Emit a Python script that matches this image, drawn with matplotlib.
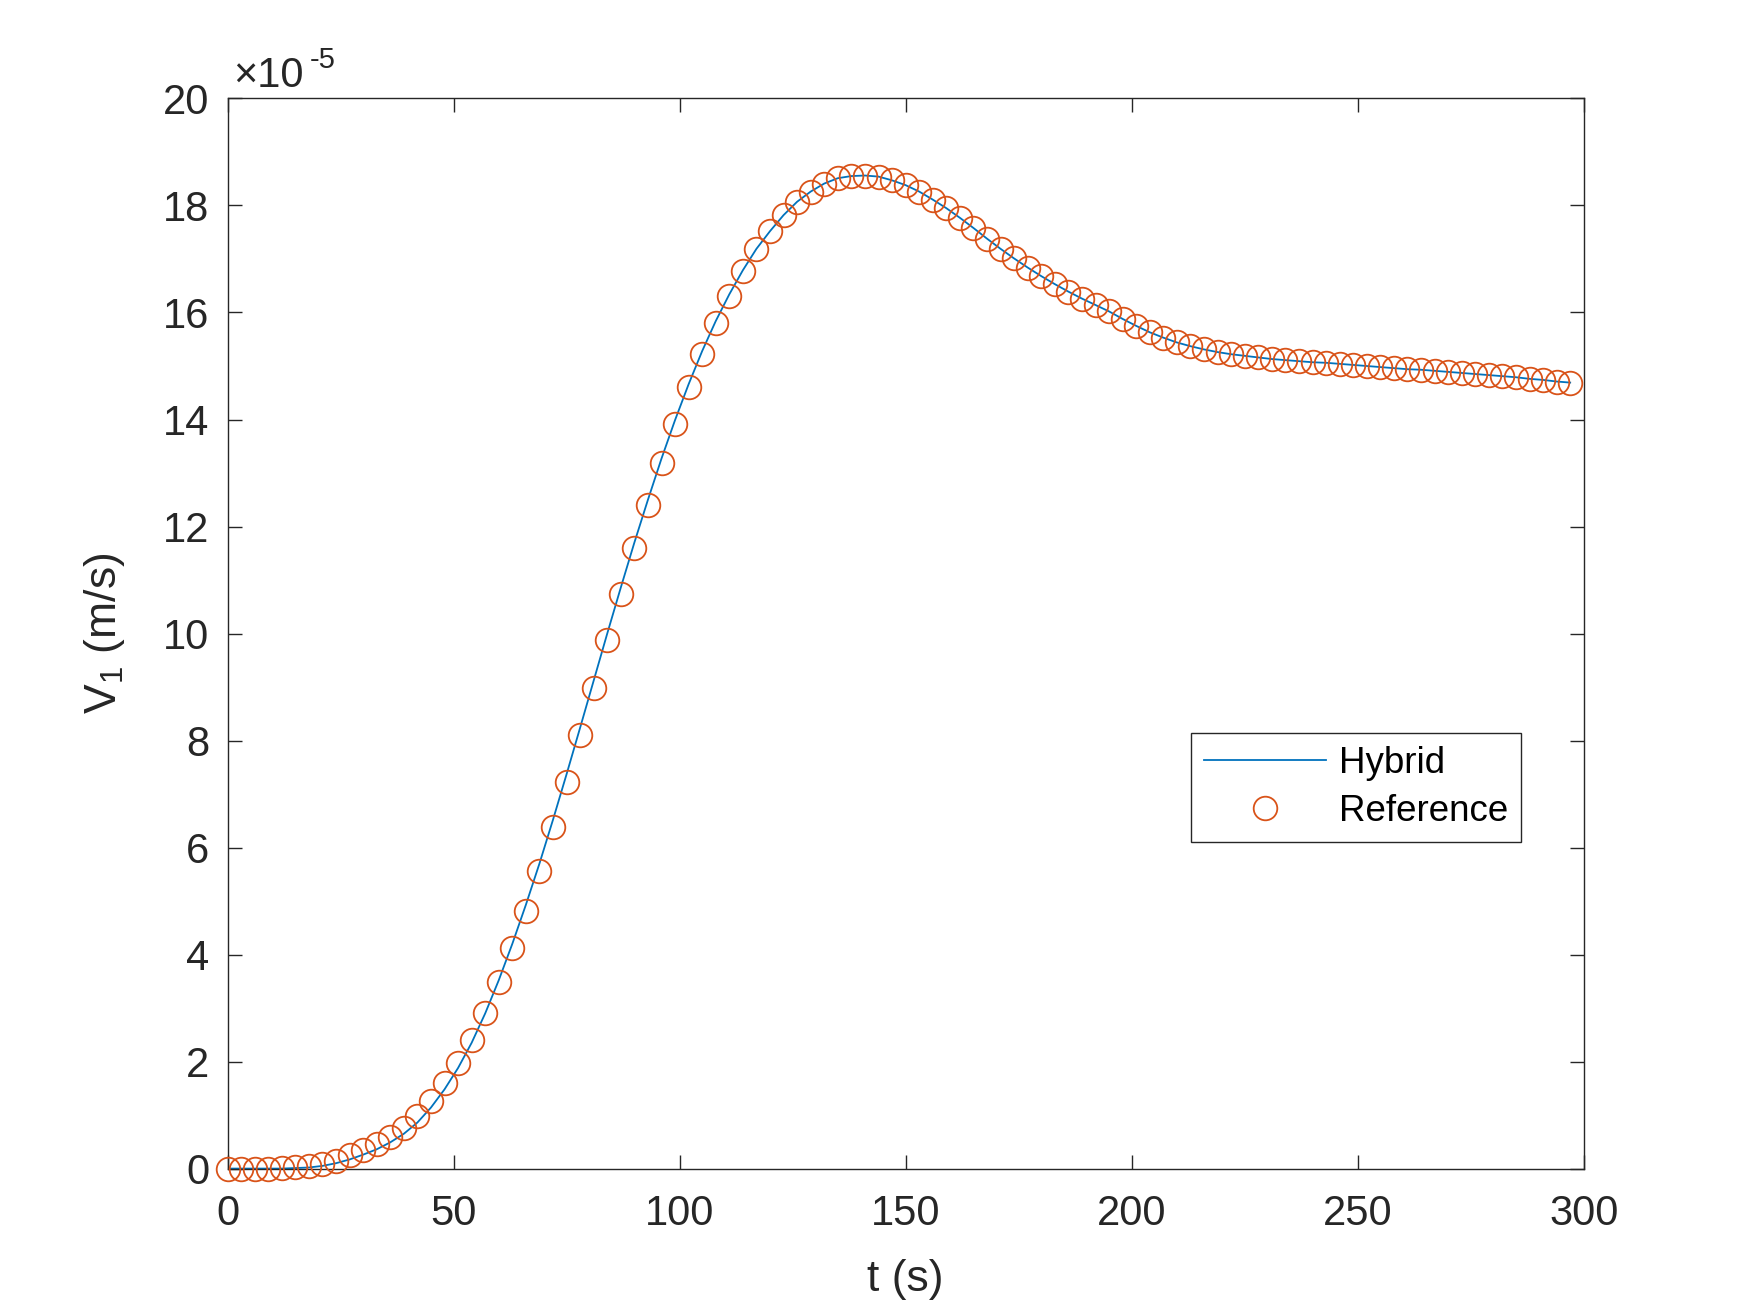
import numpy as np
import matplotlib
matplotlib.use("Agg")
import matplotlib.pyplot as plt

# ---- data (values in units of 1e-5 m/s) ----
t_ref = list(range(0, 300, 3))
v_ref = [0.00, 0.00, 0.00, 0.00, 0.01, 0.02, 0.04, 0.08, 0.15, 0.25,
         0.35, 0.45, 0.59, 0.76, 0.98, 1.27, 1.59, 1.97, 2.40, 2.91,
         3.48, 4.12, 4.82, 5.57, 6.38, 7.22, 8.10, 8.98, 9.88, 10.74,
         11.59, 12.41, 13.19, 13.92, 14.60, 15.23, 15.80, 16.31, 16.78, 17.18,
         17.52, 17.82, 18.07, 18.26, 18.41, 18.51, 18.55, 18.56, 18.54, 18.47,
         18.38, 18.26, 18.11, 17.95, 17.77, 17.58, 17.38, 17.19, 17.01, 16.84,
         16.68, 16.53, 16.39, 16.26, 16.14, 16.02, 15.88, 15.75, 15.63, 15.53,
         15.44, 15.37, 15.31, 15.26, 15.22, 15.19, 15.16, 15.13, 15.11, 15.09,
         15.07, 15.06, 15.04, 15.02, 15.00, 14.98, 14.96, 14.94, 14.93, 14.91,
         14.89, 14.87, 14.85, 14.83, 14.81, 14.79, 14.76, 14.74, 14.71, 14.69]

t_hyb = list(range(0, 300, 3))
v_hyb = [0.00, 0.00, 0.00, 0.00, 0.00, 0.01, 0.02, 0.05, 0.10, 0.17,
         0.26, 0.36, 0.49, 0.65, 0.86, 1.14, 1.48, 1.88, 2.35, 2.90,
         3.52, 4.20, 4.93, 5.70, 6.52, 7.37, 8.24, 9.12, 10.00, 10.86,
         11.70, 12.50, 13.27, 13.99, 14.66, 15.28, 15.84, 16.34, 16.79, 17.19,
         17.52, 17.82, 18.07, 18.26, 18.41, 18.51, 18.55, 18.56, 18.54, 18.47,
         18.38, 18.26, 18.11, 17.95, 17.77, 17.58, 17.38, 17.19, 17.01, 16.84,
         16.68, 16.53, 16.39, 16.26, 16.14, 16.02, 15.88, 15.75, 15.63, 15.53,
         15.44, 15.37, 15.31, 15.26, 15.22, 15.19, 15.16, 15.13, 15.11, 15.09,
         15.07, 15.06, 15.04, 15.02, 15.00, 14.98, 14.96, 14.94, 14.93, 14.91,
         14.89, 14.87, 14.85, 14.83, 14.81, 14.79, 14.76, 14.74, 14.71, 14.69]

x_ticks = [0, 50, 100, 150, 200, 250, 300]
y_ticks = [0, 2, 4, 6, 8, 10, 12, 14, 16, 18, 20]
series_labels = ["Hybrid", "Reference"]

# ---- style ----
plt.rcParams['font.family'] = ['Liberation Sans', 'DejaVu Sans']
plt.rcParams['mathtext.fontset'] = 'custom'
plt.rcParams['mathtext.rm'] = 'Liberation Sans'
plt.rcParams['mathtext.it'] = 'Liberation Sans'
plt.rcParams['mathtext.bf'] = 'Liberation Sans:bold'

dark = (0.15, 0.15, 0.15)
fig = plt.figure(figsize=(17.5, 13.13), dpi=100)
ax = fig.add_axes([0.13, 0.11, 0.775, 0.815])

ax.plot(t_hyb, v_hyb, '-', color='#0072BD', lw=1.3, label=series_labels[0], zorder=2)
ax.plot(t_ref, v_ref, 'o', mfc='none', mec='#D95319', mew=1.3, ms=17,
        label=series_labels[1], zorder=3, clip_on=False)

ax.set_xlim(0, 300)
ax.set_ylim(0, 20)
ax.set_xticks(x_ticks)
ax.set_yticks(y_ticks)
ax.set_xticklabels([str(v) for v in x_ticks])
ax.set_yticklabels([str(v) for v in y_ticks])

for s in ax.spines.values():
    s.set_color(dark)
    s.set_linewidth(1.0)
ax.tick_params(direction='in', length=10, width=1.0, colors=dark,
               labelsize=30, top=True, right=True)
ax.tick_params(axis='x', pad=18)
ax.tick_params(axis='y', pad=13)
for lab in ax.get_xticklabels() + ax.get_yticklabels():
    lab.set_color(dark)

ax.set_xlabel('t (s)', fontsize=32, color=dark, labelpad=18)
ax.set_ylabel(r'V$_1$ (m/s)', fontsize=32, color=dark, labelpad=26)

# exponent label (MATLAB style)
ax.annotate('\u00d710', xy=(0, 1), xycoords='axes fraction',
            xytext=(4, 8.6), textcoords='offset points',
            ha='left', va='baseline', fontsize=30, color=dark)
ax.annotate('-5', xy=(0, 1), xycoords='axes fraction',
            xytext=(59, 22), textcoords='offset points',
            ha='left', va='baseline', fontsize=21, color=dark)

leg = ax.legend(loc='upper left', bbox_to_anchor=(0.7104, 0.407),
                fontsize=26.5, frameon=True, fancybox=False, shadow=False,
                handlelength=3.3, handletextpad=0.35, borderpad=0.36,
                labelspacing=0.34, borderaxespad=0.0, numpoints=1)
leg.get_frame().set_edgecolor(dark)
leg.get_frame().set_linewidth(1.0)
leg.get_frame().set_alpha(1.0)

fig.savefig('out.png', dpi=100, facecolor='white')
